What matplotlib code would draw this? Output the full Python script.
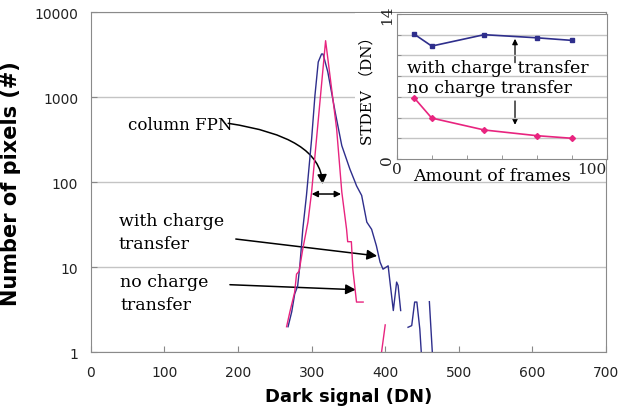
import numpy as np
import matplotlib
matplotlib.use("Agg")
from matplotlib import pyplot as plt
from matplotlib.patches import FancyArrowPatch

nan = np.nan

# dark signal histograms (nan = empty bins)
pink_x = [266, 270.5, 277, 279.5, 283, 288, 295, 300, 319, 334, 341, 347.5, 349, 354, 356, 361, 370, nan, 395, 400]
pink_y = [2.0, 3.0, 5.1, 8.3, 9.0, 16.4, 34, 77, 4630, 424, 77, 28, 20, 20, 9.5, 3.9, 3.9, nan, 1.0, 2.1]

blue_x = [268, 273, 277, 281, 284, 288, 293, 300, 304.5, 309, 313.5, 315.5, 322, 332, 341, 352, 359, 361,
          368, 375, 381.5, 388, 393, 397, 404, 406, 411, 415.5, 417.5, 421, nan,
          431, 436, 440, 443, 447, 449, nan, 460, 464]
blue_y = [2.0, 3.0, 4.85, 6.0, 10.4, 28, 70, 323, 1045, 2600, 3230, 3230, 1985, 671, 270, 143, 101, 91,
          70, 34, 28, 17.9, 11.5, 9.5, 10.4, 7.3, 3.1, 6.7, 6.1, 3.1, nan,
          1.97, 2.06, 3.9, 3.9, 1.88, 1.0, nan, 3.94, 1.0]

x_ticks = [0, 100, 200, 300, 400, 500, 600, 700]
y_ticks = [1, 10, 100, 1000, 10000]

# inset: STDEV vs amount of frames
frames = [10, 20, 50, 80, 100]
std_with = [12.05, 10.9, 12.0, 11.7, 11.45]
std_without = [5.9, 3.95, 2.8, 2.25, 2.0]

BLUE = "#2e2e8c"
PINK = "#e8247f"
serif = ["DejaVu Serif", "Noto Sans CJK SC"]

fig = plt.figure(figsize=(6.28, 4.10), dpi=100)
ax = fig.add_axes([0.1446, 0.1383, 0.8204, 0.8293])

ax.plot(blue_x, blue_y, color=BLUE, lw=1.0)
ax.plot(pink_x, pink_y, color=PINK, lw=1.0)

ax.set_yscale("log")
ax.set_xlim(0, 700)
ax.set_ylim(1, 10000)
ax.set_xticks(x_ticks)
ax.set_xticklabels([str(v) for v in x_ticks])
ax.set_yticks(y_ticks)
ax.set_yticklabels([str(v) for v in y_ticks])
ax.minorticks_off()
ax.tick_params(direction="in", length=4, colors="#888888", labelcolor="#222222", labelsize=10, pad=9)
ax.grid(axis="y", color="#c4c4c4", lw=1.0)
for s in ax.spines.values():
    s.set_color("#8a8a8a")

ax.set_xlabel("Dark signal (DN)", fontsize=13, fontweight="heavy", labelpad=6)
ax.set_ylabel("Number of pixels (#)", fontsize=15, fontweight="heavy", labelpad=10)

# annotations
ax.text(51, 485, "column FPN", family=serif, fontsize=12, va="center")
ax.text(38, 45, "with charge\ntransfer", family=serif, fontsize=12.5, va="top", linespacing=1.45)
ax.text(40, 8.6, "no charge\ntransfer", family=serif, fontsize=12.5, va="top", linespacing=1.45)

ax.add_patch(FancyArrowPatch((183, 499), (315, 88), arrowstyle="-|>", mutation_scale=14,
                             connectionstyle="angle3,angleA=-8,angleB=90", color="black", lw=1.1))
ax.add_patch(FancyArrowPatch((300, 72.8), (340, 72.8), arrowstyle="<|-|>", mutation_scale=9,
                             color="black", lw=1.1, shrinkA=0, shrinkB=0))
ax.add_patch(FancyArrowPatch((197, 21.5), (389, 13.6), arrowstyle="-|>", mutation_scale=15,
                             color="black", lw=1.1, shrinkA=0, shrinkB=0))
ax.add_patch(FancyArrowPatch((189, 6.24), (360, 5.45), arrowstyle="-|>", mutation_scale=15,
                             color="black", lw=1.1, shrinkA=0, shrinkB=0))

# white background behind the inset
bg = fig.add_axes([355 / 628, 1 - 180 / 410, (605 - 355) / 628, (180 - 14) / 410])
bg.set_facecolor("white")
bg.set_xticks([])
bg.set_yticks([])
for s in bg.spines.values():
    s.set_visible(False)

ins = fig.add_axes([0.6317, 0.6098, 0.3344, 0.3537])
ins.plot(frames, std_with, color=BLUE, lw=1.2, marker="s", ms=3.5)
ins.plot(frames, std_without, color=PINK, lw=1.2, marker="D", ms=3)
ins.set_xlim(0, 120)
ins.set_ylim(0, 14)
ins.set_xticks([0, 120])
ins.set_xticklabels(["0", "100"], family=serif, fontsize=11)
ins.get_xticklabels()[1].set_horizontalalignment("right")
ins.set_xticks(np.arange(0, 121, 20), minor=True)
ins.set_yticks([0, 14])
ins.set_yticklabels(["0", "14"], family=serif, fontsize=11, rotation=90, va="center")
ins.set_yticks(np.arange(0, 15, 2), minor=True)
ins.grid(axis="y", which="minor", color="#c4c4c4", lw=1.0)
ins.tick_params(which="both", direction="in", length=3, colors="#888888", labelcolor="#222222", pad=2)
for s in ins.spines.values():
    s.set_color("#8a8a8a")
ins.set_xlabel("Amount of frames", family=serif, fontsize=12.5)
ins.xaxis.set_label_coords(0.455, -0.055)
ins.set_ylabel("STDEV （DN）", family=serif, fontsize=11, labelpad=4)

ins.text(5.7, 8.85, "with charge transfer", family=serif, fontsize=12.5, va="center")
ins.text(5.7, 6.92, "no charge transfer", family=serif, fontsize=12.5, va="center")
ins.add_patch(FancyArrowPatch((67.6, 9.3), (67.6, 11.6), arrowstyle="-|>", mutation_scale=8,
                              color="black", lw=0.9, shrinkA=0, shrinkB=0))
ins.add_patch(FancyArrowPatch((67.6, 5.6), (67.6, 3.3), arrowstyle="-|>", mutation_scale=8,
                              color="black", lw=0.9, shrinkA=0, shrinkB=0))

fig.savefig("out.png", dpi=100)
